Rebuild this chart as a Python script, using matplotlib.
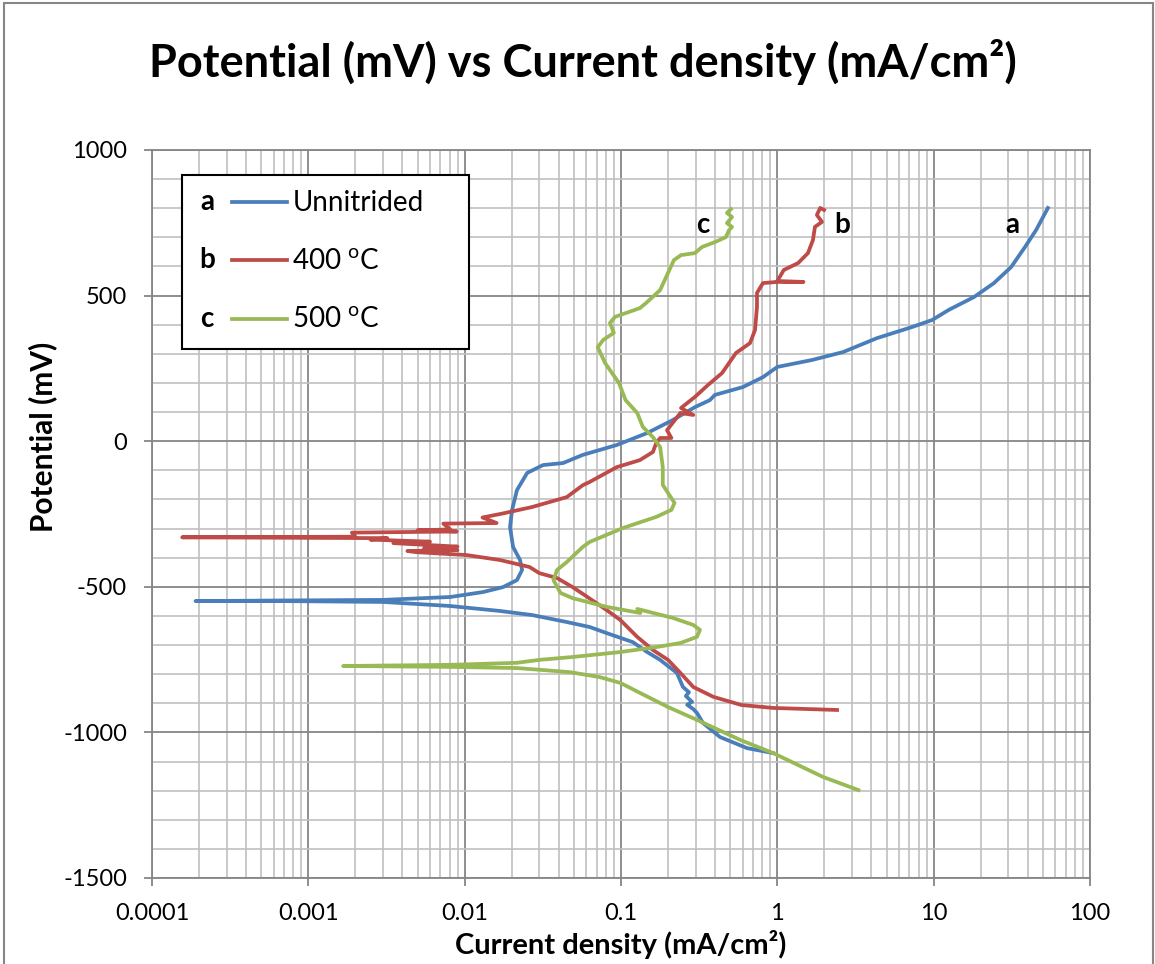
import numpy as np
import matplotlib
matplotlib.use('Agg')
import matplotlib.pyplot as plt
from matplotlib.legend_handler import HandlerBase
from matplotlib.lines import Line2D
from matplotlib.text import Text
from matplotlib.patches import Rectangle
from matplotlib.ticker import FixedLocator, MultipleLocator, LogLocator, NullFormatter

plt.rcParams['font.family'] = ['Lato', 'DejaVu Sans']
plt.rcParams['mathtext.fontset'] = 'custom'
plt.rcParams['mathtext.rm'] = 'Lato'
plt.rcParams['axes.unicode_minus'] = False

# ---- data (current density mA/cm2, potential mV) ----
a_current = [0.938, 0.64, 0.43, 0.335, 0.306, 0.29, 0.265, 0.285, 0.277, 0.26, 0.272, 0.249,
             0.228, 0.178, 0.147, 0.119, 0.081, 0.063, 0.045, 0.027, 0.0168, 0.0081, 0.003,
             0.00069, 0.00019, 0.00069, 0.003, 0.0081, 0.0131, 0.0176, 0.0216, 0.0233, 0.0226,
             0.0204, 0.0195, 0.0201, 0.0216, 0.0251, 0.0317, 0.0426, 0.057, 0.094, 0.147, 0.215,
             0.297, 0.37, 0.399, 0.603, 0.809, 1.0, 1.67, 2.63, 4.34, 7.27, 9.76, 12.5, 18.1,
             24.3, 31.3, 38.4, 45.2, 53.8]
a_potential = [-1071, -1054, -1016, -968, -933, -920, -905, -895, -889, -875, -862, -844,
               -796, -751, -724, -690, -659, -638, -621, -597, -583, -566, -552,
               -549, -549, -547, -545, -535, -518, -501, -477, -442, -408,
               -363, -295, -236, -168, -109, -82, -75, -47, -13, 28, 73,
               117, 141, 159, 186, 220, 255, 279, 306, 354, 392, 416, 451, 495,
               543, 598, 667, 725, 801]

b_current = [2.41, 0.94, 0.59, 0.39, 0.29, 0.24, 0.20, 0.16, 0.127, 0.099, 0.081, 0.061,
             0.049, 0.039, 0.030, 0.026, 0.0168, 0.0103, 0.0049, 0.0043, 0.009, 0.0055,
             0.009, 0.0035, 0.006, 0.0025, 0.0032, 0.000156, 0.002, 0.0019, 0.0089, 0.005,
             0.0081, 0.0073, 0.016, 0.013, 0.0176, 0.027, 0.045, 0.057, 0.063, 0.094, 0.132,
             0.160, 0.168, 0.178, 0.21, 0.197, 0.24, 0.29, 0.242, 0.297, 0.36, 0.443, 0.544,
             0.669, 0.72, 0.741, 0.741, 0.809, 1.0, 1.47, 1.0, 1.10, 1.36, 1.57, 1.69, 1.74,
             1.93, 1.79, 1.88, 1.99]
b_potential = [-923, -916, -906, -878, -844, -796, -751, -717, -672, -614, -580, -535,
               -501, -470, -453, -432, -408, -391, -381, -377, -374, -368,
               -362, -350, -345, -338, -333, -330, -328, -314, -310, -306,
               -303, -283, -281, -262, -248, -226, -192, -151, -140, -89, -65,
               -37, -6, 11, 11, 38, 97, 90, 114, 152, 193, 234, 303,
               337, 382, 461, 509, 543, 547, 547, 550, 588, 612, 646, 691, 736,
               753, 777, 801, 794]

c_current = [3.3, 1.96, 0.94, 0.58, 0.306, 0.20, 0.133, 0.099, 0.073, 0.047, 0.0216, 0.0081,
             0.00167, 0.0081, 0.0216, 0.030, 0.049, 0.099, 0.168, 0.24, 0.306, 0.32, 0.29,
             0.215, 0.127, 0.133, 0.081, 0.049, 0.041, 0.037, 0.039, 0.045, 0.057, 0.063,
             0.103, 0.168, 0.21, 0.22, 0.20, 0.185, 0.185, 0.178, 0.16, 0.138, 0.127, 0.107,
             0.097, 0.079, 0.071, 0.077, 0.090, 0.085, 0.0916, 0.132, 0.145, 0.178, 0.218,
             0.242, 0.297, 0.33, 0.40, 0.469, 0.491, 0.513, 0.476, 0.513, 0.476, 0.505]
c_potential = [-1198, -1153, -1071, -1026, -957, -913, -865, -830, -810, -793, -779, -775,
               -772, -768, -761, -751, -741, -724, -707, -693, -672, -648, -631,
               -607, -576, -590, -569, -539, -521, -477, -442, -415, -363, -346,
               -298, -260, -236, -212, -178, -150, -89, -20, 14, 49, 97, 141,
               200, 269, 323, 348, 372, 406, 427, 457, 475, 519, 622,
               639, 646, 667, 684, 701, 725, 736, 749, 770, 784, 797]

series_labels = ['Unnitrided', '400 $^{\\mathrm{o}}$C', '500 $^{\\mathrm{o}}$C']
series_letters = ['a', 'b', 'c']
series_colors = ['#4a7ebb', '#be4b48', '#98b954']
x_ticks = [0.0001, 0.001, 0.01, 0.1, 1, 10, 100]
x_ticklabels = ['0.0001', '0.001', '0.01', '0.1', '1', '10', '100']
y_ticks = [-1500, -1000, -500, 0, 500, 1000]
# where the curve letters sit next to the top of each curve
letter_x = [31.7, 2.6, 0.335]
letter_y = [742, 742, 742]


class LetterLineHandler(HandlerBase):
    # legend entry: bold letter followed by a short line
    def __init__(self, letter):
        super().__init__()
        self.letter = letter

    def create_artists(self, legend, orig_handle, xdescent, ydescent,
                       width, height, fontsize, trans):
        y = height / 2 - ydescent
        x0 = -xdescent
        txt = Text(x0 + 0.11 * width, y, self.letter, fontsize=fontsize,
                   fontweight='bold', ha='center', va='center')
        txt.set_transform(trans)
        ln = Line2D([x0 + 0.39 * width, x0 + width], [y, y],
                    color=orig_handle.get_color(), lw=orig_handle.get_linewidth())
        ln.set_transform(trans)
        return [txt, ln]


fig = plt.figure(figsize=(11.55, 9.64), dpi=100)
ax = fig.add_axes([152 / 1155, 1 - 878 / 964, 938 / 1155, 728 / 964])

xs = [a_current, b_current, c_current]
ys = [a_potential, b_potential, c_potential]
lines = []
for x, y, col, lab in zip(xs, ys, series_colors, series_labels):
    ln, = ax.plot(x, y, color=col, lw=2.7, label=lab, solid_joinstyle='round')
    lines.append(ln)

ax.set_xscale('log')
ax.set_xlim(1e-4, 100)
ax.set_ylim(-1500, 1000)

ax.xaxis.set_major_locator(FixedLocator(x_ticks))
ax.set_xticklabels(x_ticklabels)
ax.xaxis.set_minor_locator(LogLocator(base=10, subs=np.arange(2, 10), numticks=20))
ax.xaxis.set_minor_formatter(NullFormatter())
ax.yaxis.set_major_locator(FixedLocator(y_ticks))
ax.yaxis.set_minor_locator(MultipleLocator(100))

ax.grid(which='major', color='#868686', lw=1.3)
ax.grid(which='minor', color='#c0c0c0', lw=1.2)
ax.set_axisbelow(True)
for sp in ax.spines.values():
    sp.set_color('#868686')
    sp.set_linewidth(1.3)

ax.tick_params(which='major', direction='out', length=6, width=1.3, color='#868686',
               labelsize=17, labelcolor='black')
ax.tick_params(axis='y', which='major', pad=12)
ax.tick_params(axis='x', which='major', pad=12)
ax.tick_params(which='minor', length=0)

fig.text(583 / 1155, 1 - 62 / 964, 'Potential (mV) vs Current density (mA/cm²)',
         fontsize=32.5, fontweight='bold', ha='center', va='center')
ax.set_xlabel('Current density (mA/cm²)', fontsize=21, fontweight='bold', labelpad=4)
ax.set_ylabel('Potential (mV)', fontsize=21.5, fontweight='bold')
ax.yaxis.set_label_coords(-0.101, 0.606)

for lx, ly, lt in zip(letter_x, letter_y, series_letters):
    ax.text(lx, ly, lt, fontsize=20, fontweight='bold', ha='center', va='center')

leg = ax.legend(handles=lines, labels=series_labels,
                handler_map={ln: LetterLineHandler(lt) for ln, lt in zip(lines, series_letters)},
                loc='upper left', bbox_to_anchor=(0.032, 0.5, 0.306, 0.4657),
                mode='expand', borderaxespad=0, fontsize=20, handlelength=3.24,
                handletextpad=0.18, borderpad=0.55, labelspacing=1.17,
                fancybox=False, framealpha=1, edgecolor='black')
leg.get_frame().set_linewidth(1.5)

# chart area border (bottom edge is cut off in the reference)
fig.patches.append(Rectangle((4 / 1155, -0.05), 1149 / 1155, 1.05 - 3 / 964,
                             transform=fig.transFigure, fill=False,
                             edgecolor='#868686', lw=1.5))

fig.savefig('out.png', dpi=100)
